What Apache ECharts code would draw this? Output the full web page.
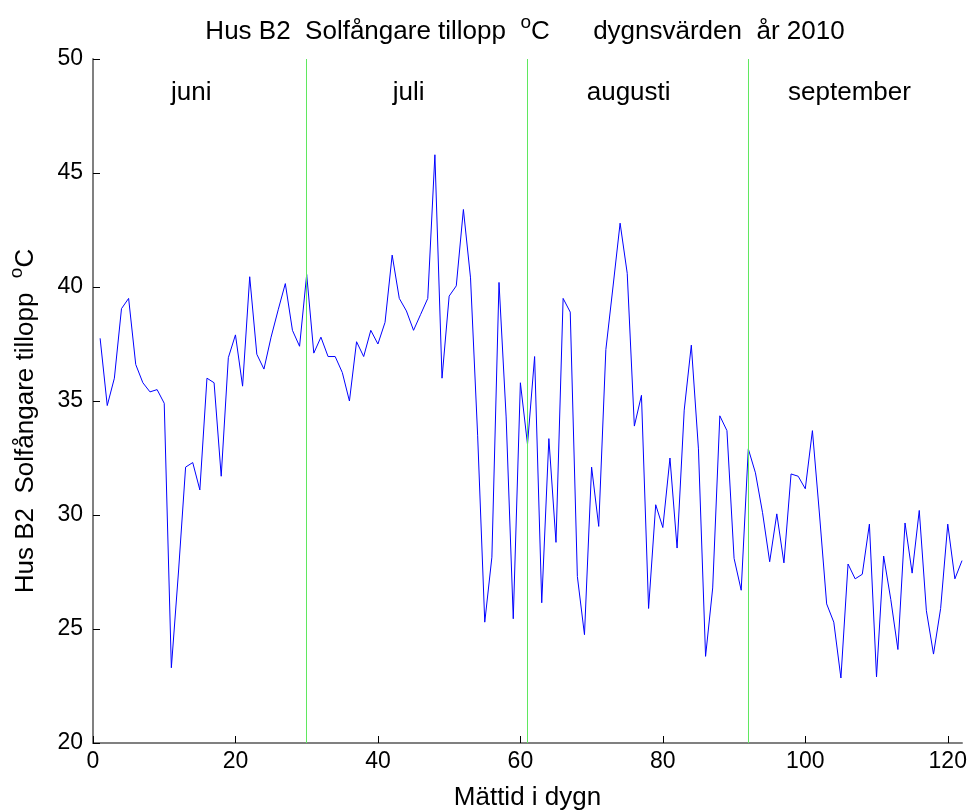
<!DOCTYPE html>
<html>
<head>
<meta charset="utf-8">
<script src="https://cdn.jsdelivr.net/npm/echarts@6/dist/echarts.min.js"></script>
<style>
  html, body { margin: 0; padding: 0; background: #fff; }
  #chart { width: 971px; height: 812px; }
</style>
</head>
<body>
<div id="chart"></div>
<script>
// dygnsvärden, dag 1..122 (juni - september 2010)
var days = []
for (var i = 1; i <= 122; i++) days.push(i)

var temps = [
  37.75, 34.8, 36.0, 39.05, 39.5, 36.6, 35.8, 35.4, 35.5, 34.9,
  23.3, 27.5, 32.1, 32.3, 31.1, 36.0, 35.8, 31.7, 36.9, 37.9,
  35.65, 40.45, 37.05, 36.4, 37.8, 39.0, 40.15, 38.1, 37.4, 40.55,
  37.1, 37.8, 36.95, 36.95, 36.25, 35.0, 37.6, 36.95, 38.1, 37.5,
  38.45, 41.4, 39.5, 38.95, 38.1, 38.8, 39.5, 45.8, 36.0, 39.6,
  40.05, 43.4, 40.4, 33.5, 25.3, 28.15, 40.2, 34.3, 25.45, 35.8,
  33.1, 36.95, 26.15, 33.35, 28.8, 39.5, 38.9, 27.3, 24.75, 32.1,
  29.5, 37.25, 40.0, 42.8, 40.6, 33.9, 35.25, 25.9, 30.45, 29.45,
  32.5, 28.55, 34.6, 37.45, 32.9, 23.8, 26.8, 34.35, 33.7, 28.1,
  26.7, 32.9, 31.85, 30.1, 27.95, 30.05, 27.9, 31.8, 31.7, 31.15,
  33.7, 30.0, 26.1, 25.3, 22.85, 27.85, 27.2, 27.4, 29.6, 22.9,
  28.2, 26.3, 24.1, 29.65, 27.45, 30.2, 25.8, 23.9, 25.9, 29.6,
  27.2, 28.0
]

// månadsgränser och etiketter
var monthBounds = [30, 61, 92]
var monthNames = ['juni', 'juli', 'augusti', 'september']
var monthLabelX = [13.8, 44.3, 75.2, 106.2]
var monthLabelY = [48.5, 48.5, 48.5, 48.5]

var chart = echarts.init(document.getElementById('chart'))

var fontFam = 'Liberation Sans, Arial, sans-serif'
var bigFont = 26
var tickFont = 23

var richTxt = {
  t: { fontFamily: fontFam, fontSize: bigFont, fontWeight: 'normal', color: '#000', verticalAlign: 'bottom', lineHeight: 32 },
  s: { fontFamily: fontFam, fontSize: 19, fontWeight: 'normal', color: '#000', verticalAlign: 'top', lineHeight: 32, padding: [0, 0, 14, 0] }
}

chart.setOption({
  animation: false,
  title: {
    text: '{t|Hus B2  Solfångare tillopp  }{s|o}{t|C      dygnsvärden  år 2010}',
    left: 520,
    textAlign: 'center',
    top: 8,
    textStyle: { fontWeight: 'normal', rich: richTxt }
  },
  grid: {
    left: 93,
    right: 9,
    top: 59,
    bottom: 69,
    outerBoundsMode: 'none'
  },
  xAxis: {
    type: 'value',
    min: 0,
    max: 122,
    interval: 20,
    name: 'Mättid i dygn',
    nameLocation: 'middle',
    nameGap: 42,
    nameTextStyle: { fontFamily: fontFam, fontSize: bigFont, color: '#000' },
    axisLine: { show: true, lineStyle: { color: '#808080', width: 2 } },
    axisTick: { show: true, inside: true, length: 7, lineStyle: { color: '#000' } },
    axisLabel: {
      fontFamily: fontFam, fontSize: tickFont, color: '#000', margin: 7,
      showMaxLabel: false
    },
    splitLine: { show: false }
  },
  yAxis: {
    type: 'value',
    min: 20,
    max: 50,
    interval: 5,
    name: '{t|Hus B2  Solfångare tillopp  }{s|o}{t|C}',
    nameLocation: 'middle',
    nameGap: 54,
    nameRotate: 90,
    nameTextStyle: { rich: richTxt, padding: [0, 40, 0, 0] },
    axisLine: { show: true, lineStyle: { color: '#808080', width: 2 } },
    axisTick: { show: true, inside: true, length: 7, lineStyle: { color: '#000' } },
    axisLabel: { fontFamily: fontFam, fontSize: tickFont, color: '#000', margin: 10 },
    splitLine: { show: false }
  },
  series: [
    {
      name: 'tillopp',
      type: 'line',
      data: days.map(function (d, i) { return [d, temps[i]] }),
      symbol: 'none',
      lineStyle: { color: '#0000ff', width: 1 },
      z: 3,
      markLine: {
        silent: true,
        symbol: 'none',
        label: { show: false },
        lineStyle: { color: '#5fe85f', width: 1, type: 'solid' },
        data: monthBounds.map(function (x) { return { xAxis: x } })
      }
    },
    {
      name: 'månader',
      type: 'scatter',
      symbolSize: 0,
      silent: true,
      itemStyle: { opacity: 1 },
      data: monthNames.map(function (n, i) { return { value: [monthLabelX[i], monthLabelY[i]], name: n } }),
      label: {
        show: true,
        position: 'inside',
        formatter: '{b}',
        fontFamily: fontFam,
        fontSize: bigFont,
        color: '#000',
        opacity: 1
      }
    }
  ]
})
</script>
</body>
</html>
